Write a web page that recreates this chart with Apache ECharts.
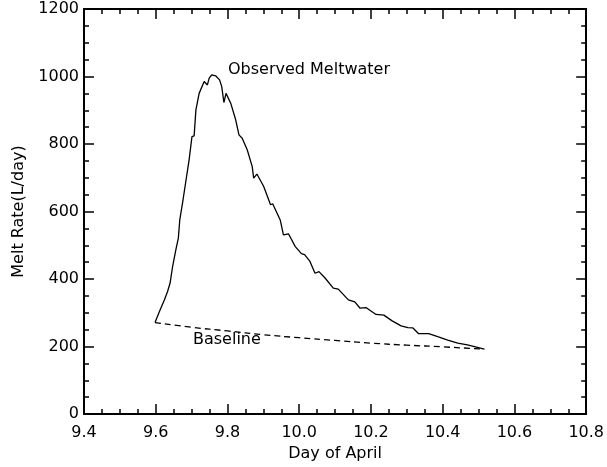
<!DOCTYPE html>
<html style="height: 100%">
    <head>
        <meta charset="utf-8">
    </head>
    <body style="height: 100%; margin: 0; background: #fff">
        <div id="container" style="width: 607px; height: 467px"></div>
        <script type="text/javascript" src="https://cdn.jsdelivr.net/npm/echarts@6/dist/echarts.min.js"></script>
    </body>
</html>
<script type="text/javascript">
    // observed meltwater (day of April, L/day)
    var obsX = [9.598, 9.610, 9.624, 9.633, 9.640, 9.647, 9.656, 9.663, 9.667, 9.676,
        9.693, 9.701, 9.707, 9.712, 9.721, 9.735, 9.739, 9.744, 9.749, 9.756,
        9.767, 9.778, 9.784, 9.790, 9.796, 9.809, 9.823, 9.832, 9.841, 9.855,
        9.869, 9.873, 9.882, 9.901, 9.920, 9.926, 9.947, 9.956, 9.970, 9.989,
        10.006, 10.015, 10.030, 10.044, 10.055, 10.072, 10.095, 10.109, 10.137, 10.155,
        10.169, 10.187, 10.214, 10.236, 10.259, 10.284, 10.303, 10.317, 10.333, 10.361,
        10.386, 10.414, 10.442, 10.469, 10.516];
    var obsY = [271, 303, 338, 363, 388, 437, 486, 521, 575, 634,
        753, 822, 824, 901, 950, 985, 990, 975, 995, 1005,
        1002, 990, 970, 923, 950, 921, 871, 827, 817, 783,
        733, 699, 711, 674, 620, 623, 575, 531, 534, 496,
        475, 472, 452, 417, 422, 403, 373, 370, 338, 332,
        314, 315, 295, 293, 276, 261, 256, 255, 238, 238,
        229, 219, 210, 205, 192];

    // baseline
    var baseX = [9.598, 9.7, 9.8, 9.9, 10.0, 10.1, 10.2, 10.3, 10.4, 10.516];
    var baseY = [271, 257, 246, 235, 226, 218, 210, 204, 199, 192];

    var xTicks = [9.4, 10.8, 0.2];
    var yTicks = [0, 1200, 200];

    function pairs(xs, ys) {
        var out = [];
        for (var i = 0; i < xs.length; i++) out.push([xs[i], ys[i]]);
        return out;
    }

    var font = 'DejaVu Sans';
    var dom = document.getElementById("container");
    var myChart = echarts.init(dom, null, {renderer: 'canvas'});

    function axisBase(extra) {
        var a = {
            type: 'value',
            axisLine: {show: true, onZero: false, lineStyle: {color: '#000', width: 2}},
            axisTick: {show: true, inside: true, length: 10, lineStyle: {color: '#000', width: 1.5}},
            minorTick: {show: true, splitNumber: 4, length: 5, lineStyle: {color: '#000', width: 1.5}},
            splitLine: {show: false},
            axisLabel: {color: '#000', fontFamily: font, fontSize: 16},
            nameTextStyle: {color: '#000', fontFamily: font, fontSize: 16}
        };
        for (var k in extra) a[k] = extra[k];
        return a;
    }

    var option = {
        animation: false,
        backgroundColor: '#fff',
        grid: {left: 84, right: 18, top: 9, bottom: 53},
        xAxis: [
            axisBase({
                min: xTicks[0], max: xTicks[1], interval: xTicks[2], position: 'bottom',
                name: 'Day of April', nameLocation: 'middle', nameGap: 30,
                axisLabel: {color: '#000', fontFamily: font, fontSize: 16, margin: 11,
                    formatter: function (v) { return v.toFixed(1); }}
            }),
            axisBase({
                min: xTicks[0], max: xTicks[1], interval: xTicks[2], position: 'top',
                axisLabel: {show: false}
            })
        ],
        yAxis: [
            axisBase({
                min: yTicks[0], max: yTicks[1], interval: yTicks[2], position: 'left',
                name: 'Melt Rate(L/day)', nameLocation: 'middle', nameGap: 57,
                axisLabel: {color: '#000', fontFamily: font, fontSize: 16, margin: 5,
                    formatter: function (v) { return String(v); }}
            }),
            axisBase({
                min: yTicks[0], max: yTicks[1], interval: yTicks[2], position: 'right',
                axisLabel: {show: false}
            })
        ],
        graphic: [
            {type: 'text', left: 228, top: 62,
                style: {text: 'Observed Meltwater', fill: '#000', font: '16px "DejaVu Sans"'}},
            {type: 'text', left: 193, top: 332,
                style: {text: 'Baseline', fill: '#000', font: '16px "DejaVu Sans"'}}
        ],
        series: [
            {
                name: 'Observed', type: 'line', data: pairs(obsX, obsY),
                showSymbol: false, smooth: false,
                lineStyle: {color: '#000', width: 1.3}
            },
            {
                name: 'Baseline', type: 'line', data: pairs(baseX, baseY),
                showSymbol: false, smooth: true,
                lineStyle: {color: '#000', width: 1.3, type: [6, 4]}
            }
        ]
    };

    if (option && typeof option === 'object') {
        myChart.setOption(option);
    }
</script>
